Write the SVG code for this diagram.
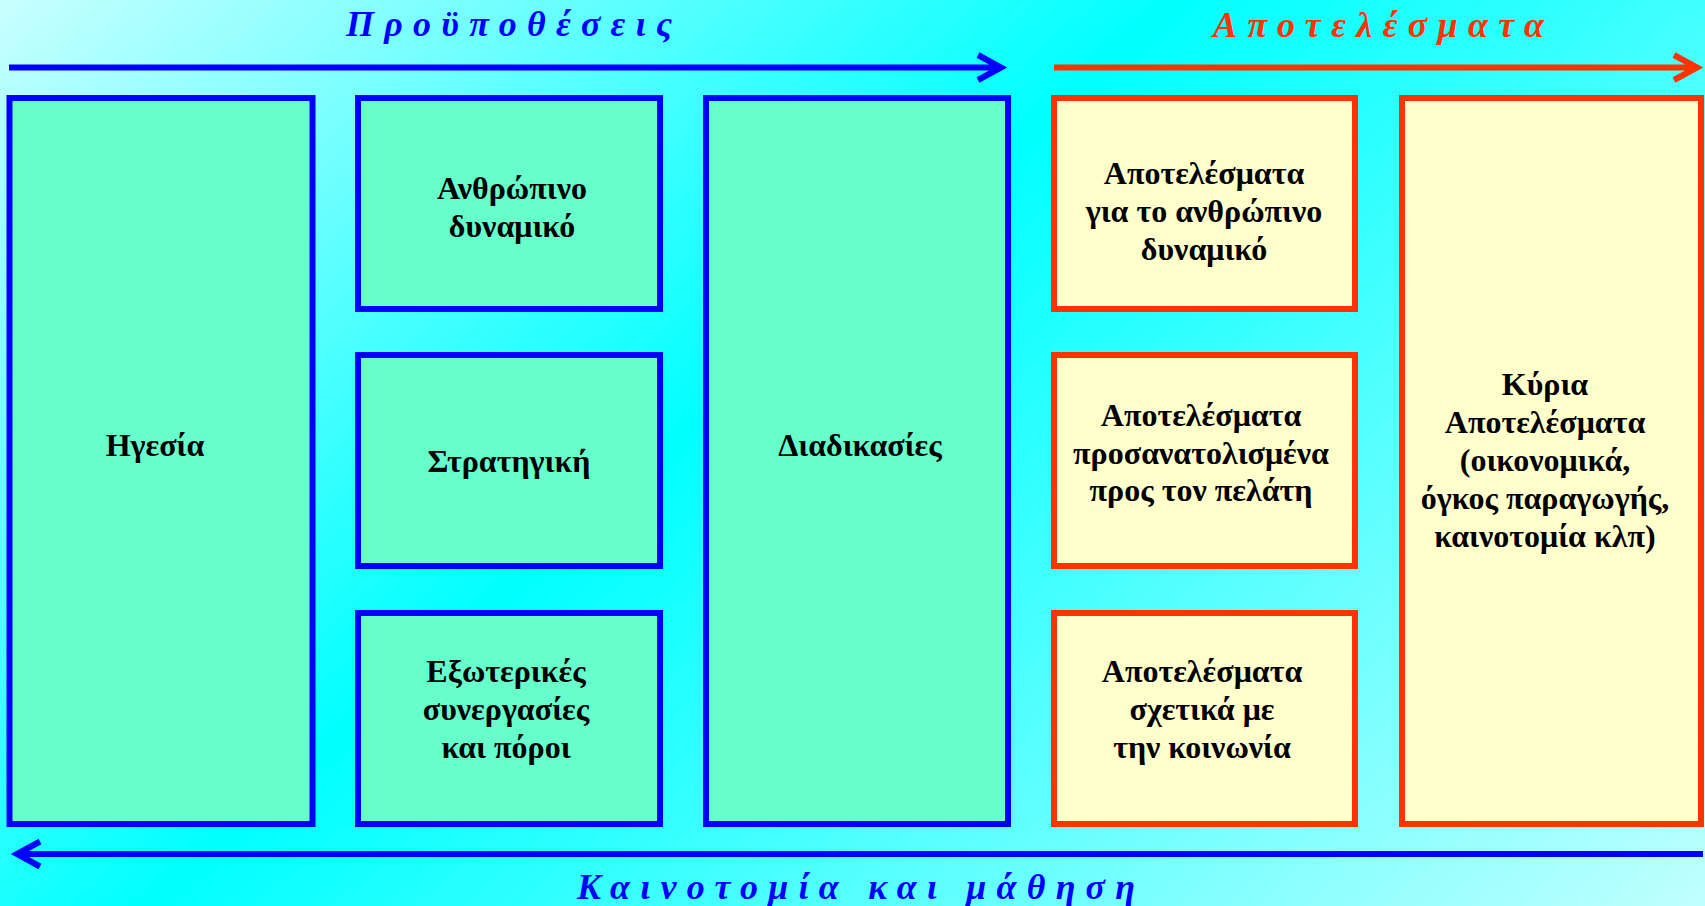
<svg xmlns="http://www.w3.org/2000/svg" width="1705" height="906" viewBox="0 0 1705 906">
<defs>
<linearGradient id="bg" gradientUnits="userSpaceOnUse" x1="666" y1="-584" x2="1857" y2="770">
<stop offset="0" stop-color="#c8ffff"/>
<stop offset="0.43" stop-color="#00ffff"/>
<stop offset="1" stop-color="#c0ffff"/>
</linearGradient>
<style>
.g{fill:#66FFCC;stroke:#0000FF;stroke-width:6}
.y{fill:#FFFFCC;stroke:#FF3300;stroke-width:6}
.t{font-family:"Liberation Serif","Times New Roman",serif;font-weight:bold;font-size:32px;fill:#000;text-anchor:middle}
.h{font-family:"Liberation Serif","Times New Roman",serif;font-weight:bold;font-style:italic;font-size:36px}
.ab{fill:none;stroke:#0000FF;stroke-width:6;stroke-linejoin:miter}
.ar{fill:none;stroke:#FF3300;stroke-width:6;stroke-linejoin:miter}
</style>
</defs>
<rect width="1705" height="906" fill="url(#bg)"/>

<g id="titles">
<text class="h" x="346" y="36" fill="#0000FF" textLength="326" lengthAdjust="spacing">Προϋποθέσεις</text>
<text class="h" x="1213" y="37" fill="#FF3300" textLength="331" lengthAdjust="spacing">Αποτελέσματα</text>
<text class="h" x="577" y="899" fill="#0000FF" textLength="558" lengthAdjust="spacing">Καινοτομία και μάθηση</text>
</g>

<g id="connectors">
<path class="ab" d="M9,67.5 H1000 M978,55 L1001,67.5 L978,80"/>
<path class="ar" d="M1054,67.5 H1696 M1674,55 L1697,67.5 L1674,80"/>
<path class="ab" d="M1703,854 H18 M40,841.5 L17,854 L40,866.5"/>
</g>

<g id="n-igesia">
<rect class="g" x="9.5" y="98" width="303" height="726"/>
<text class="t" x="155" y="456">Ηγεσία</text>
</g>
<g id="n-anthropino">
<rect class="g" x="358" y="98" width="302" height="211"/>
<text class="t" x="512" y="199">Ανθρώπινο</text>
<text class="t" x="512" y="237">δυναμικό</text>
</g>
<g id="n-stratigiki">
<rect class="g" x="358" y="355" width="302" height="211"/>
<text class="t" x="509" y="472">Στρατηγική</text>
</g>
<g id="n-exoterikes">
<rect class="g" x="358" y="613" width="302" height="211"/>
<text class="t" x="506" y="682">Εξωτερικές</text>
<text class="t" x="506" y="720">συνεργασίες</text>
<text class="t" x="506" y="758">και πόροι</text>
</g>
<g id="n-diadikasies">
<rect class="g" x="706" y="98" width="302" height="726"/>
<text class="t" x="860" y="456">Διαδικασίες</text>
</g>
<g id="n-apot-anthr">
<rect class="y" x="1054" y="98" width="301" height="211"/>
<text class="t" x="1204" y="183.5">Αποτελέσματα</text>
<text class="t" x="1204" y="221.5">για το ανθρώπινο</text>
<text class="t" x="1204" y="259.5">δυναμικό</text>
</g>
<g id="n-apot-pelati">
<rect class="y" x="1054" y="355" width="301" height="211"/>
<text class="t" x="1201" y="426">Αποτελέσματα</text>
<text class="t" x="1201" y="463.5">προσανατολισμένα</text>
<text class="t" x="1201" y="501">προς τον πελάτη</text>
</g>
<g id="n-apot-koinonia">
<rect class="y" x="1054" y="613" width="301" height="211"/>
<text class="t" x="1202" y="682">Αποτελέσματα</text>
<text class="t" x="1202" y="720">σχετικά με</text>
<text class="t" x="1202" y="758">την κοινωνία</text>
</g>
<g id="n-kyria">
<rect class="y" x="1402" y="98" width="299" height="726"/>
<text class="t" x="1545" y="395">Κύρια</text>
<text class="t" x="1545" y="433">Αποτελέσματα</text>
<text class="t" x="1545" y="471">(οικονομικά,</text>
<text class="t" x="1545" y="509">όγκος παραγωγής,</text>
<text class="t" x="1545" y="547">καινοτομία κλπ)</text>
</g>
</svg>
